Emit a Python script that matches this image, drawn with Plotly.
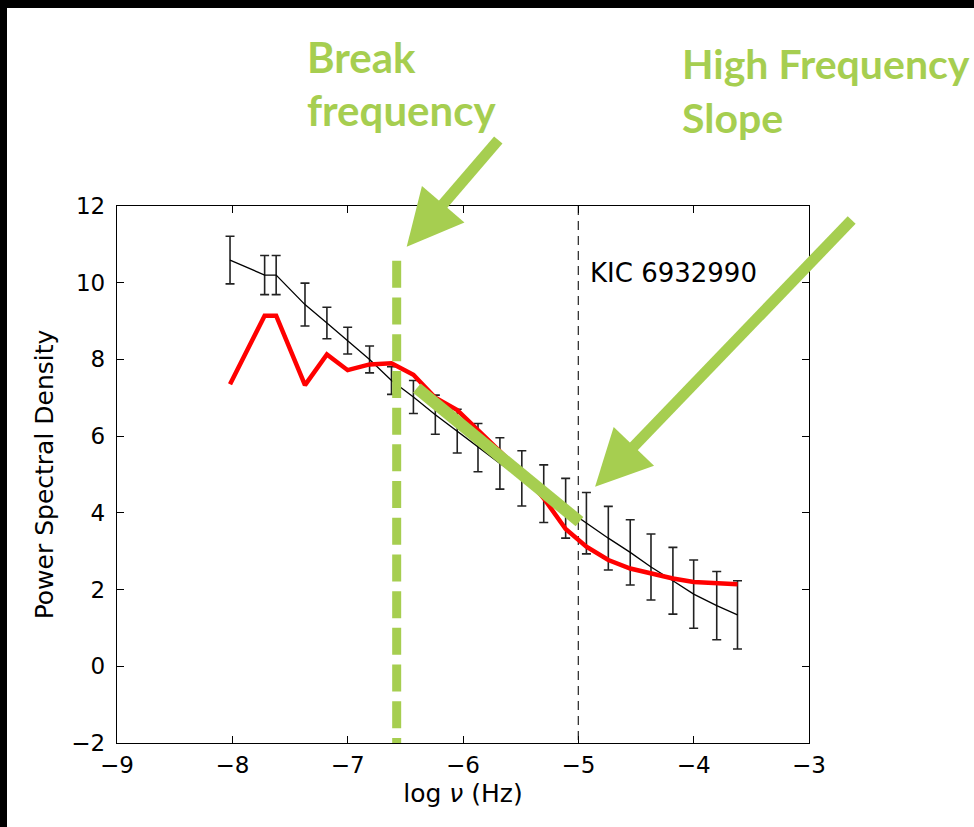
import plotly.graph_objects as go

# ---------------- data ----------------
log_nu = [-8.02, -7.72, -7.62, -7.37, -7.18, -7.00, -6.81, -6.62, -6.43, -6.24,
          -6.05, -5.87, -5.68, -5.49, -5.30, -5.11, -4.93, -4.74, -4.55, -4.37,
          -4.18, -4.00, -3.80, -3.62]
psd_obs = [10.59, 10.20, 10.20, 9.43, 8.95, 8.49, 8.00, 7.45, 7.02, 6.56,
           6.13, 5.70, 5.29, 4.90, 4.50, 4.12, 3.73, 3.34, 2.97, 2.59,
           2.23, 1.88, 1.58, 1.34]
psd_err = [0.62, 0.51, 0.51, 0.56, 0.41, 0.35, 0.35, 0.36, 0.43, 0.51,
           0.57, 0.63, 0.67, 0.72, 0.75, 0.78, 0.80, 0.83, 0.85, 0.86,
           0.87, 0.89, 0.89, 0.89]
psd_model = [7.35, 9.14, 9.14, 7.33, 8.13, 7.72, 7.87, 7.90, 7.60, 7.00,
             6.68, 6.15, 5.58, 5.05, 4.38, 3.58, 3.12, 2.77, 2.55, 2.42,
             2.29, 2.20, 2.16, 2.14]

x_ticks = [-9, -8, -7, -6, -5, -4, -3]
y_ticks = [-2, 0, 2, 4, 6, 8, 10, 12]
x_range = [-9, -3]
y_range = [-2, 12]

star_label = "KIC 6932990"
star_label_pos = (-4.92, 10.25)
kepler_limit = -5.0            # black dashed line
break_freq = -6.575            # green dashed line
break_line_top = 10.57
slope_start = (-6.40, 7.25)
slope_end = (-4.99, 3.77)
arrow_break = ((-5.694, 13.72), (-6.488, 10.94))   # tail, tip (data units)
arrow_slope = ((-2.63, 11.635), (-4.855, 4.682))

GREEN = "#A6CE50"

# ---------------- layout geometry ----------------
W, H = 974, 827
ML, MR, MT, MB = 117, 165, 206, 84
PW, PH = W - ML - MR, H - MT - MB


def d2px(x, y):
    px = ML + (x - x_range[0]) / (x_range[1] - x_range[0]) * PW
    py = MT + (y_range[1] - y) / (y_range[1] - y_range[0]) * PH
    return px, py


def px2paper(px, py):
    return (px - ML) / PW, (MT + PH - py) / PH


fig = go.Figure()

fig.add_trace(go.Scatter(
    x=log_nu, y=psd_obs, mode="lines",
    line=dict(color="black", width=1.3),
    error_y=dict(type="data", array=psd_err, visible=True,
                 color="#222222", thickness=1.6, width=4.5),
    showlegend=False, hoverinfo="skip"))

fig.add_trace(go.Scatter(
    x=log_nu, y=psd_model, mode="lines",
    line=dict(color="#FF0000", width=4.5),
    showlegend=False, hoverinfo="skip"))

shapes = []
# page border (black band top and left)
x0p, _ = px2paper(0, 0)
x1p, _ = px2paper(W, 0)
_, ytop = px2paper(0, 0)
_, yb8 = px2paper(0, 8)
_, ybot = px2paper(0, H)
xl7, _ = px2paper(7, 0)
shapes.append(dict(type="rect", xref="paper", yref="paper", x0=x0p, x1=x1p,
                   y0=yb8, y1=ytop, fillcolor="black", line=dict(width=0),
                   layer="above"))
shapes.append(dict(type="rect", xref="paper", yref="paper", x0=x0p, x1=xl7,
                   y0=ybot, y1=ytop, fillcolor="black", line=dict(width=0),
                   layer="above"))

# black dashed vertical line
shapes.append(dict(type="line", xref="x", yref="y", x0=kepler_limit, x1=kepler_limit,
                   y0=y_range[1], y1=y_range[0],
                   line=dict(color="#333333", width=1.3, dash="9px,6px"),
                   layer="below"))
# green dashed break frequency line
shapes.append(dict(type="line", xref="x", yref="y", x0=break_freq, x1=break_freq,
                   y0=break_line_top, y1=y_range[0] - 0.05,
                   line=dict(color=GREEN, width=9, dash="27px,9.7px"),
                   layer="above"))
# green slope line
shapes.append(dict(type="line", xref="x", yref="y", x0=slope_start[0], y0=slope_start[1],
                   x1=slope_end[0], y1=slope_end[1],
                   line=dict(color=GREEN, width=12), layer="above"))


def arrow(tail, tip, head_len=56, half_w=28, shaft_w=11):
    tx, ty = d2px(*tail)
    hx, hy = d2px(*tip)
    dx, dy = hx - tx, hy - ty
    L = (dx * dx + dy * dy) ** 0.5
    ux, uy = dx / L, dy / L
    bx, by = hx - ux * head_len, hy - uy * head_len
    nx, ny = -uy, ux
    p1 = px2paper(bx + nx * half_w, by + ny * half_w)
    p2 = px2paper(bx - nx * half_w, by - ny * half_w)
    p3 = px2paper(hx, hy)
    t0 = px2paper(tx, ty)
    b0 = px2paper(bx + ux * 2, by + uy * 2)
    out = [dict(type="line", xref="paper", yref="paper", x0=t0[0], y0=t0[1],
                x1=b0[0], y1=b0[1], line=dict(color=GREEN, width=shaft_w),
                layer="above"),
           dict(type="path", xref="paper", yref="paper",
                path=f"M{p1[0]},{p1[1]} L{p2[0]},{p2[1]} L{p3[0]},{p3[1]} Z",
                fillcolor=GREEN, line=dict(width=0), layer="above")]
    return out


shapes += arrow(*arrow_break)
shapes += arrow(*arrow_slope)

annotations = [
    dict(x=star_label_pos[0], y=star_label_pos[1], xref="x", yref="y",
         text=star_label, showarrow=False, xanchor="left", yanchor="middle",
         font=dict(family="DejaVu Sans", size=26, color="black")),
]

green_texts = [("Break", 305, 57, 42), ("frequency", 305, 110, 42),
               ("High Frequency", 680, 63, 41), ("Slope", 680, 117, 41)]
for txt, px, py, fs in green_texts:
    xp, yp = px2paper(px, py)
    annotations.append(dict(x=xp, y=yp, xref="paper", yref="paper", text=txt,
                            showarrow=False, xanchor="left", yanchor="middle",
                            font=dict(family="Lato", size=fs, color=GREEN,
                                      weight="bold")))

fig.update_layout(
    width=W, height=H,
    margin=dict(l=ML, r=MR, t=MT, b=MB, pad=0),
    paper_bgcolor="white", plot_bgcolor="white",
    shapes=shapes, annotations=annotations,
    font=dict(family="DejaVu Sans", color="black"),
    xaxis=dict(range=x_range, tickvals=x_ticks, showgrid=False, zeroline=False,
               showline=True, linecolor="black", linewidth=1.3, mirror="ticks",
               ticks="inside", ticklen=7, tickwidth=1, tickcolor="black",
               tickfont=dict(family="DejaVu Sans", size=23, color="black"),
               ticklabelstandoff=1,
               title=dict(text="log <i>ν</i> (Hz)", standoff=7,
                          font=dict(family="DejaVu Sans", size=25, color="black"))),
    yaxis=dict(range=y_range, tickvals=y_ticks, showgrid=False, zeroline=False,
               showline=True, linecolor="black", linewidth=1.3, mirror="ticks",
               ticks="inside", ticklen=7, tickwidth=1, tickcolor="black",
               tickfont=dict(family="DejaVu Sans", size=23, color="black"),
               ticklabelstandoff=6,
               title=dict(text="Power Spectral Density", standoff=10,
                          font=dict(family="DejaVu Sans", size=25, color="black"))),
)

fig.write_html("out.html")
